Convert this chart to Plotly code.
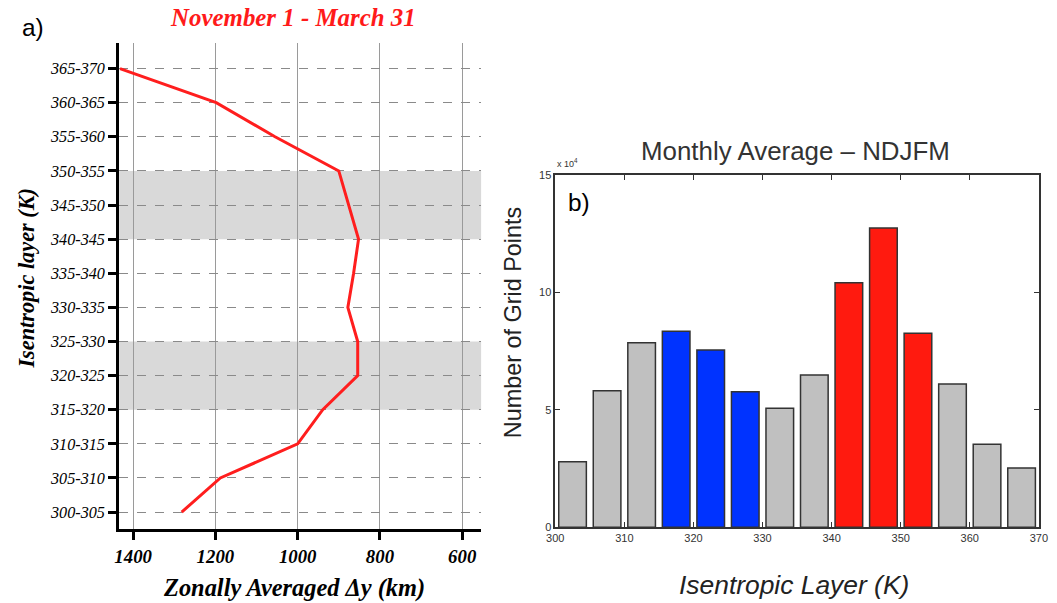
import plotly.graph_objects as go

# ---- Panel a data ----
layers = ["300-305", "305-310", "310-315", "315-320", "320-325", "325-330", "330-335",
          "335-340", "340-345", "345-350", "350-355", "355-360", "360-365", "365-370"]
delta_y_km = [1282, 1188, 1000, 939, 854, 854, 878, 864, 852, 876, 900, 1055, 1198, 1432]
xticks_a = [1400, 1200, 1000, 800, 600]
shaded_bands = [("315-320", "325-330"), ("340-345", "350-355")]

# ---- Panel b data ----
bar_centers = [302.5, 307.5, 312.5, 317.5, 322.5, 327.5, 332.5, 337.5, 342.5, 347.5, 352.5, 357.5, 362.5, 367.5]
grid_points_e4 = [2.79, 5.81, 7.86, 8.35, 7.55, 5.77, 5.06, 6.48, 10.41, 12.74, 8.26, 6.10, 3.53, 2.52]
bar_colors = ["#c0c0c0", "#c0c0c0", "#c0c0c0", "#0033ff", "#0033ff", "#0033ff", "#c0c0c0",
              "#c0c0c0", "#ff1a0f", "#ff1a0f", "#ff1a0f", "#c0c0c0", "#c0c0c0", "#c0c0c0"]
xticks_b = [300, 310, 320, 330, 340, 350, 360, 370]
yticks_b = [0, 5, 10, 15]

W, H = 1057, 603
# compensate the small offset/shrink of the page photograph
SX, OX = 0.994, 4.6
SY, OY = 0.977, 6.5
def px(x): return ((x - OX) / SX) / W
def py(y): return 1 - ((y - OY) / SY) / H
def fs(s): return round(s / 0.985, 1)

fig = go.Figure()

yidx = list(range(len(layers)))
fig.add_trace(go.Scatter(x=delta_y_km, y=yidx, mode="lines",
                         line=dict(color="#ff1e1e", width=3), xaxis="x", yaxis="y",
                         showlegend=False, hoverinfo="skip"))

fig.add_trace(go.Bar(x=bar_centers, y=grid_points_e4, width=4,
                     marker=dict(color=bar_colors, line=dict(color="#333333", width=1.5)),
                     xaxis="x2", yaxis="y2", showlegend=False))

serif = "Liberation Serif, Times New Roman, serif"
sans = "Liberation Sans, Arial, sans-serif"
narrow = "Liberation Sans Narrow, Arial Narrow, sans-serif"

shapes = []
for lo, hi in shaded_bands:
    shapes.append(dict(type="rect", xref="x domain", yref="y", x0=0, x1=1,
                       y0=layers.index(lo), y1=layers.index(hi),
                       fillcolor="#d9d9d9", line=dict(width=0), layer="below"))

def ann(text, x, y, font, angle=0):
    return dict(text=text, x=px(x), y=py(y), xref="paper", yref="paper",
                xanchor="center", yanchor="middle", showarrow=False,
                textangle=angle, font=font)

fig.update_layout(
    width=W, height=H, margin=dict(l=0, r=0, t=0, b=0),
    paper_bgcolor="white", plot_bgcolor="white",
    shapes=shapes,
    xaxis=dict(domain=[px(116), px(482)], range=[1434, 554], anchor="y",
               tickvals=xticks_a, showgrid=True, gridcolor="#9a9a9a", gridwidth=1,
               showline=True, linecolor="black", linewidth=3,
               ticks="outside", ticklen=8, tickwidth=3, tickcolor="black",
               tickfont=dict(family=serif, size=fs(18.5), color="black", style="italic", weight="bold"),
               zeroline=False),
    yaxis=dict(domain=[py(528), py(43)], range=[-0.5, 13.76], anchor="x",
               tickvals=yidx, ticktext=layers, showgrid=True, gridcolor="#8a8a8a",
               griddash="dash", gridwidth=1,
               showline=True, linecolor="black", linewidth=3,
               ticks="outside", ticklen=8, tickwidth=3, tickcolor="black",
               tickfont=dict(family=serif, size=fs(16), color="black", style="italic"),
               zeroline=False),
    xaxis2=dict(domain=[px(557), px(1046)], range=[300, 370], anchor="y2",
                tickvals=xticks_b, showgrid=False, zeroline=False,
                showline=True, linecolor="#333333", linewidth=1.5, mirror="ticks",
                ticks="inside", ticklen=5, tickcolor="#333333",
                tickfont=dict(family=narrow, size=11, color="#333333")),
    yaxis2=dict(domain=[py(526), py(175)], range=[0, 15], anchor="x2",
                tickvals=yticks_b, showgrid=False, zeroline=False,
                showline=True, linecolor="#333333", linewidth=1.5, mirror="ticks",
                ticks="inside", ticklen=5, tickcolor="#333333",
                tickfont=dict(family=narrow, size=11, color="#333333")),
    annotations=[
        ann("November 1 - March 31", 292, 18,
            dict(family=serif, size=fs(24.5), color="#ff1a1a", style="italic", weight="bold")),
        ann("a)", 29, 28, dict(family=sans, size=fs(24), color="black")),
        ann("Isentropic layer (K)", 22, 278,
            dict(family=serif, size=fs(22), color="black", style="italic", weight="bold"), -90),
        ann("Zonally Averaged Δy (km)", 293, 587,
            dict(family=serif, size=fs(24), color="black", style="italic", weight="bold")),
        ann("Monthly Average – NDJFM", 800, 151, dict(family=sans, size=fs(25.5), color="#333333")),
        ann("x 10<sup>4</sup>", 569, 163, dict(family=sans, size=9, color="#333333")),
        ann("b)", 581, 202, dict(family=sans, size=fs(24), color="black")),
        ann("Number of Grid Points", 514, 322, dict(family=sans, size=fs(23), color="#222222"), -90),
        ann("Isentropic Layer (K)", 798, 584,
            dict(family=sans, size=fs(26), color="#222222", style="italic")),
    ],
)

fig.write_html("out.html")
